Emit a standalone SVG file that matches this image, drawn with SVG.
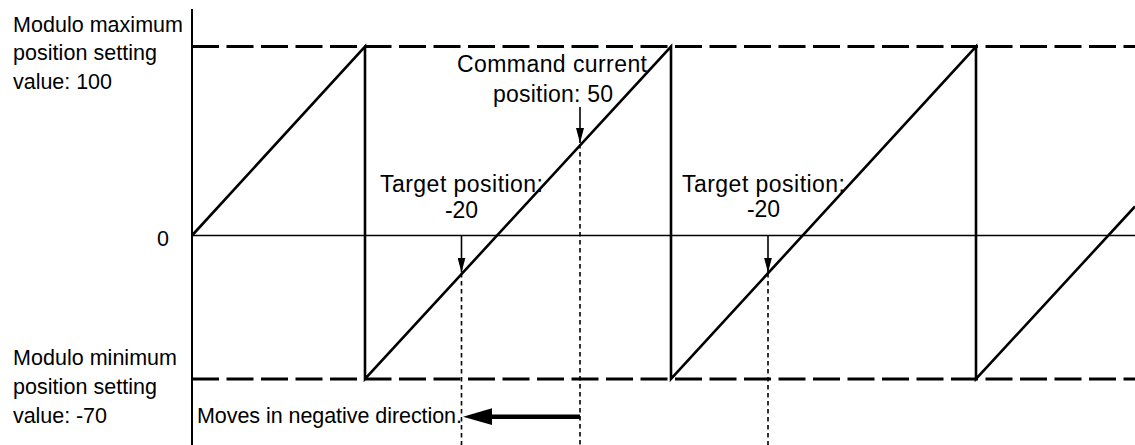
<svg xmlns="http://www.w3.org/2000/svg" width="1135" height="445" viewBox="0 0 1135 445">
  <style>
    text { font-family: "Liberation Sans", Arial, Helvetica, sans-serif; font-size: 21.5px; fill: #000; }
    .big { font-size: 23px; }
    .limit { stroke: #000; stroke-width: 3; stroke-dasharray: 27 7.5; fill: none; }
    .zero { stroke: #000; stroke-width: 1.6; fill: none; }
    .axis { stroke: #000; stroke-width: 2; fill: none; }
    .wave { stroke: #000; stroke-width: 2.6; fill: none; stroke-linejoin: miter; }
    .guide { stroke: #000; stroke-width: 1.6; stroke-dasharray: 4.5 3.5; fill: none; }
    .ptr { stroke: #000; stroke-width: 1.6; fill: none; }
    .move { stroke: #000; stroke-width: 4.5; fill: none; }
  </style>
  <defs>
    <marker id="tip" viewBox="0 0 15 8" refX="15" refY="4" markerWidth="15" markerHeight="8" markerUnits="userSpaceOnUse" orient="auto">
      <path d="M0,0 L15,4 L0,8 Z" fill="#000"/>
    </marker>
  </defs>

  <rect width="1135" height="445" fill="#fff"/>

  <g id="grid">
    <line class="limit" x1="192" y1="46.5" x2="1135" y2="46.5"/>
    <line class="limit" x1="192" y1="379" x2="1135" y2="379"/>
    <line class="zero" x1="192" y1="235.5" x2="1135" y2="235.5"/>
    <line class="axis" x1="192" y1="9" x2="192" y2="445"/>
  </g>

  <g id="waveform">
    <polyline class="wave" points="192,235.5 365,46.5 365,379 671,46.5 671,379 976,46.5 976,379 1135,206.5"/>
  </g>

  <g id="labels-left">
    <text x="13" y="31.5" textLength="170" lengthAdjust="spacing">Modulo maximum</text>
    <text x="13" y="60" textLength="144" lengthAdjust="spacing">position setting</text>
    <text x="13" y="89" textLength="99" lengthAdjust="spacing">value: 100</text>
    <text x="157" y="245.5">0</text>
    <text x="13" y="365" textLength="164" lengthAdjust="spacing">Modulo minimum</text>
    <text x="13" y="394" textLength="144" lengthAdjust="spacing">position setting</text>
    <text x="13" y="423" textLength="94" lengthAdjust="spacing">value: -70</text>
  </g>

  <g id="command-current">
    <text class="big" x="457" y="72" textLength="190" lengthAdjust="spacing">Command current</text>
    <text class="big" x="493" y="102" textLength="120" lengthAdjust="spacing">position: 50</text>
  </g>

  <g id="target-1">
    <text class="big" x="380" y="192" textLength="163" lengthAdjust="spacing">Target position:</text>
    <text class="big" x="445" y="218" textLength="33" lengthAdjust="spacing">-20</text>
  </g>

  <g id="target-2">
    <text class="big" x="682" y="192" textLength="163" lengthAdjust="spacing">Target position:</text>
    <text class="big" x="747" y="217" textLength="33" lengthAdjust="spacing">-20</text>
  </g>

  <g id="move-label">
    <text x="197" y="423" textLength="265" lengthAdjust="spacing">Moves in negative direction.</text>
  </g>

  <g id="connectors">
    <line class="ptr" x1="580" y1="107" x2="580" y2="143" marker-end="url(#tip)"/>
    <line class="ptr" x1="461.5" y1="236" x2="461.5" y2="272.5" marker-end="url(#tip)"/>
    <line class="ptr" x1="768" y1="236" x2="768" y2="272.5" marker-end="url(#tip)"/>
    <line class="guide" x1="580" y1="144" x2="580" y2="445"/>
    <line class="guide" x1="461.5" y1="273" x2="461.5" y2="445"/>
    <line class="guide" x1="768" y1="273" x2="768" y2="445"/>
    <line class="move" x1="580" y1="416.7" x2="488" y2="416.7"/>
    <polygon points="463,416.7 492,408.3 492,425.1" fill="#000"/>
  </g>
</svg>
